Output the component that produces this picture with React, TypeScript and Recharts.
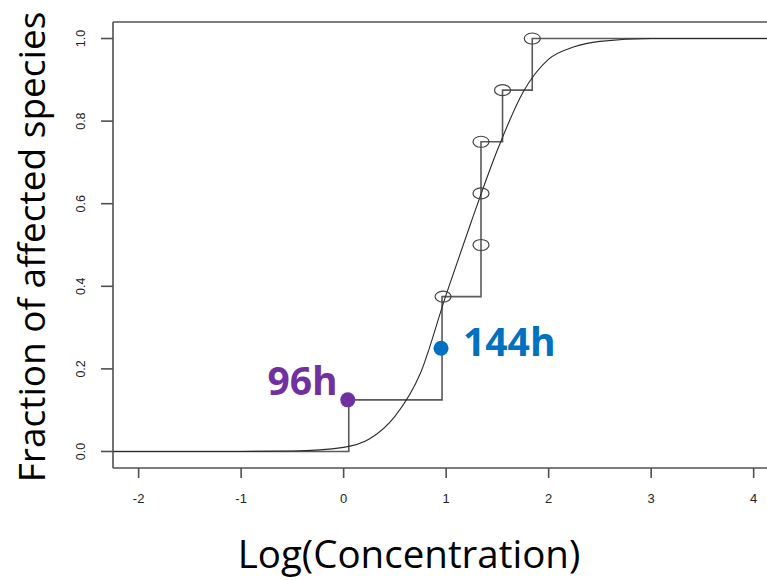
import React from 'react';
import { ComposedChart, Line, Scatter, XAxis, YAxis, ReferenceLine, Label } from 'recharts';

// axis ranges and ticks
const xDomain = [-2.25, 4.13];
const yDomain = [-0.04, 1.04];
const xTicks = [-2, -1, 0, 1, 2, 3, 4];
const yTicks = [0, 0.2, 0.4, 0.6, 0.8, 1.0];

// fitted curve
const curveX = [-2.25, -1, -0.5, 0, 0.25, 0.5, 0.75, 1, 1.25, 1.5, 1.75, 2, 2.25, 2.5, 3, 4.13];
const curveY = [0, 0, 0.001, 0.01, 0.03, 0.085, 0.19, 0.38, 0.56, 0.73, 0.87, 0.95, 0.98, 0.993, 1, 1];

// empirical step function
const stepX = [-2.25, 0.05, 0.96, 1.34, 1.55, 1.84, 4.13];
const stepY = [0, 0.125, 0.375, 0.75, 0.875, 1, 1];

// species points (open circles)
const speciesX = [0.97, 1.34, 1.34, 1.34, 1.55, 1.84];
const speciesY = [0.375, 0.5, 0.625, 0.75, 0.875, 1];

// highlighted time points
const pt96 = [{ x: 0.04, y: 0.125 }];
const pt144 = [{ x: 0.95, y: 0.25 }];

const curveData = curveX.map((x, i) => ({ x, y: curveY[i] }));
const stepData = stepX.map((x, i) => ({ x, y: stepY[i] }));
const speciesData = speciesX.map((x, i) => ({ x, y: speciesY[i] }));

const AXIS = '#505050';
const TICK_FONT = '"Liberation Sans", Arial, sans-serif';
const TITLE_FONT = '"Open Sans", sans-serif';

const XTick = (props: any) => {
  const { x, payload } = props;
  return (
    <text x={x} y={503} textAnchor="middle" fontSize={13} fontFamily={TICK_FONT} fill="#222">
      {payload.value}
    </text>
  );
};

const YTick = (props: any) => {
  const { y, payload } = props;
  return (
    <text
      x={81}
      y={y}
      transform={`rotate(-90, 81, ${y})`}
      textAnchor="middle"
      dominantBaseline="central"
      fontSize={12.5}
      fontFamily={TICK_FONT}
      fill="#222"
    >
      {Number(payload.value).toFixed(1)}
    </text>
  );
};

const OpenCircle = (props: any) => (
  <ellipse cx={props.cx} cy={props.cy} rx={8} ry={5.5} fill="none" stroke="#444" strokeWidth={1.2} />
);

const markShape = (label: string, color: string, side: 'left' | 'right') => (props: any) => {
  const { cx, cy } = props;
  return (
    <g>
      <circle cx={cx} cy={cy} r={7.5} fill={color} />
      <text
        x={side === 'left' ? cx - 10 : cx + 22}
        y={side === 'left' ? cy - 5 : cy + 8}
        textAnchor={side === 'left' ? 'end' : 'start'}
        fontSize={39}
        fontWeight="bold"
        fontFamily={TITLE_FONT}
        fill={color}
      >
        {label}
      </text>
    </g>
  );
};

export default function App() {
  return (
    <div style={{ position: 'absolute', left: 0, top: 0, width: 767, height: 580, background: '#fff' }}>
      <ComposedChart width={767} height={580} margin={{ top: 22, right: 0, bottom: 0, left: 0 }}>
        <XAxis
          type="number"
          dataKey="x"
          domain={xDomain}
          ticks={xTicks}
          allowDataOverflow
          height={112}
          stroke={AXIS}
          strokeWidth={1.6}
          tickSize={10}
          tick={<XTick />}
        >
          <Label
            content={() => (
              <text x={409} y={568} textAnchor="middle" fontSize={38.5} fontFamily={TITLE_FONT} fill="#000">
                Log(Concentration)
              </text>
            )}
          />
        </XAxis>
        <YAxis
          type="number"
          dataKey="y"
          domain={yDomain}
          ticks={yTicks}
          allowDataOverflow
          width={113}
          stroke={AXIS}
          strokeWidth={1.6}
          tickSize={12}
          tick={<YTick />}
        >
          <Label
            content={() => (
              <text
                x={45}
                y={247}
                transform="rotate(-90, 45, 247)"
                textAnchor="middle"
                fontSize={37}
                fontFamily={TITLE_FONT}
                fill="#000"
              >
                Fraction of affected species
              </text>
            )}
          />
        </YAxis>
        <ReferenceLine y={yDomain[1]} stroke={AXIS} strokeWidth={1.6} />
        <Line
          data={stepData}
          dataKey="y"
          type="stepAfter"
          stroke="#5a5a5a"
          strokeWidth={1.6}
          dot={false}
          activeDot={false}
          isAnimationActive={false}
        />
        <Line
          data={curveData}
          dataKey="y"
          type="monotone"
          stroke="#2a2a2a"
          strokeWidth={1.1}
          dot={false}
          activeDot={false}
          isAnimationActive={false}
        />
        <Scatter data={speciesData} dataKey="y" shape={<OpenCircle />} isAnimationActive={false} />
        <Scatter data={pt96} dataKey="y" shape={markShape('96h', '#7030A0', 'left')} isAnimationActive={false} />
        <Scatter data={pt144} dataKey="y" shape={markShape('144h', '#0070C0', 'right')} isAnimationActive={false} />
      </ComposedChart>
    </div>
  );
}
